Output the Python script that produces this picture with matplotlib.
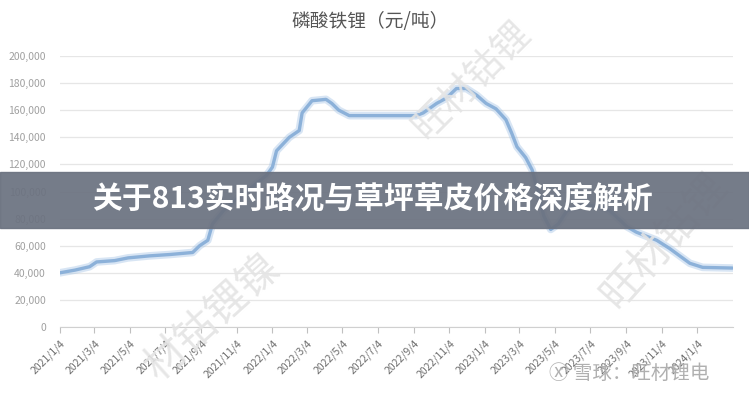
import matplotlib
matplotlib.use("Agg")
import matplotlib.pyplot as plt
import matplotlib.ticker as mticker
from matplotlib.patches import Rectangle
import pandas as pd

plt.rcParams['font.family'] = ['Noto Sans CJK SC', 'DejaVu Sans']

# LFP price (yuan / ton)
dates = ["2021-01-04", "2021-01-30", "2021-02-24", "2021-03-08", "2021-04-08",
         "2021-05-01", "2021-06-07", "2021-07-12", "2021-08-20", "2021-09-01",
         "2021-09-15", "2021-09-23", "2021-10-12", "2021-11-08", "2021-12-05",
         "2021-12-25", "2022-01-04", "2022-01-11", "2022-02-02", "2022-02-19",
         "2022-02-24", "2022-03-13", "2022-04-06", "2022-04-16", "2022-04-28",
         "2022-05-16", "2022-07-06", "2022-09-08", "2022-09-20", "2022-10-13",
         "2022-10-30", "2022-11-16", "2022-12-03", "2022-12-21", "2023-01-06",
         "2023-01-23", "2023-02-09", "2023-02-19", "2023-02-28", "2023-03-15",
         "2023-03-26", "2023-04-05", "2023-04-15", "2023-04-27", "2023-05-10",
         "2023-05-25", "2023-06-20", "2023-07-20", "2023-08-06", "2023-09-05",
         "2023-09-21", "2023-10-26", "2023-11-17", "2023-12-22", "2024-01-13",
         "2024-03-04"]
prices = [40000, 42000, 44500, 48000, 49000,
          51000, 52500, 53500, 55000, 60000,
          64000, 76000, 86000, 96000, 105000,
          112000, 118000, 130000, 140000, 145000,
          158000, 167000, 168000, 165000, 160000,
          156000, 156000, 156000, 158000, 165000,
          169000, 176000, 176000, 171000, 165000,
          161000, 153000, 143000, 133000, 125000,
          116000, 100000, 82000, 72000, 76000,
          86000, 90000, 89000, 86000, 74000,
          70000, 64000, 58000, 47000, 44000,
          43500]
tick_labels = ["2021/1/4", "2021/3/4", "2021/5/4", "2021/7/4", "2021/9/4",
               "2021/11/4", "2022/1/4", "2022/3/4", "2022/5/4", "2022/7/4",
               "2022/9/4", "2022/11/4", "2023/1/4", "2023/3/4", "2023/5/4",
               "2023/7/4", "2023/9/4", "2023/11/4", "2024/1/4"]

title = "磷酸铁锂（元/吨）"
banner = "关于813实时路况与草坪草皮价格深度解析"

x = pd.to_datetime(dates)
tick_pos = pd.to_datetime(tick_labels, format="%Y/%m/%d")

fig = plt.figure(figsize=(7.49, 4.0), dpi=100)
ax = fig.add_axes([0.080, 0.1825, 0.8986, 0.6775])

ax.plot(x, prices, color="#a9c7e7", lw=5.5, alpha=0.45, solid_capstyle="round")
ax.plot(x, prices, color="#8cb1d9", lw=2.4, solid_capstyle="round")

ax.set_ylim(0, 200000)
ax.set_xlim(pd.Timestamp("2021-01-04"), pd.Timestamp("2024-03-05"))
ax.yaxis.set_major_locator(mticker.MultipleLocator(20000))
ax.yaxis.set_major_formatter(mticker.FuncFormatter(lambda v, p: f"{int(v):,}"))
ax.grid(axis="y", color="#e6e6e6", lw=0.9)
ax.set_axisbelow(True)
for s in ["top", "right", "left"]:
    ax.spines[s].set_visible(False)
ax.spines["bottom"].set_color("#d0d0d0")

ax.set_xticks(tick_pos)
ax.set_xticklabels(tick_labels, rotation=45, ha="right", rotation_mode="anchor")
ax.tick_params(axis="x", colors="#c0c0c0", labelcolor="#6e6e6e", labelsize=7.5,
               length=4, pad=4)
ax.tick_params(axis="y", length=0, labelcolor="#a0a0a0", labelsize=7.5, pad=10)

fig.text(0.494, 0.945, title, ha="center", va="center", fontsize=13.5, color="#555555")

# faint watermarks
wm = dict(color="#e4e4e4", alpha=0.9, ha="center", va="center", zorder=0)
fig.text(472 / 749, 1 - 80 / 400, "旺材钴锂", rotation=45, fontsize=27, **wm)
fig.text(213 / 749, 1 - 317 / 400, "材钴锂镍", rotation=42, fontsize=30, **wm)
fig.text(665 / 749, 1 - 240 / 400, "旺材钴锂", rotation=48, fontsize=30, **wm)
fig.text(0.733, 1 - 373 / 400, "Ⓧ 雪球：旺材锂电", fontsize=14, color="#b0b0b0",
         ha="left", va="center", family=["Noto Sans CJK SC", "DejaVu Sans"])

fig.patches.append(Rectangle((0, 0.43), 1, 0.14, transform=fig.transFigure,
                             color="#6b7280", alpha=0.93, zorder=5))
fig.text(0.498, 0.5, banner, ha="center", va="center", fontsize=21.5,
         fontweight="heavy", color="white", zorder=6)

fig.savefig("out.png", dpi=100)
